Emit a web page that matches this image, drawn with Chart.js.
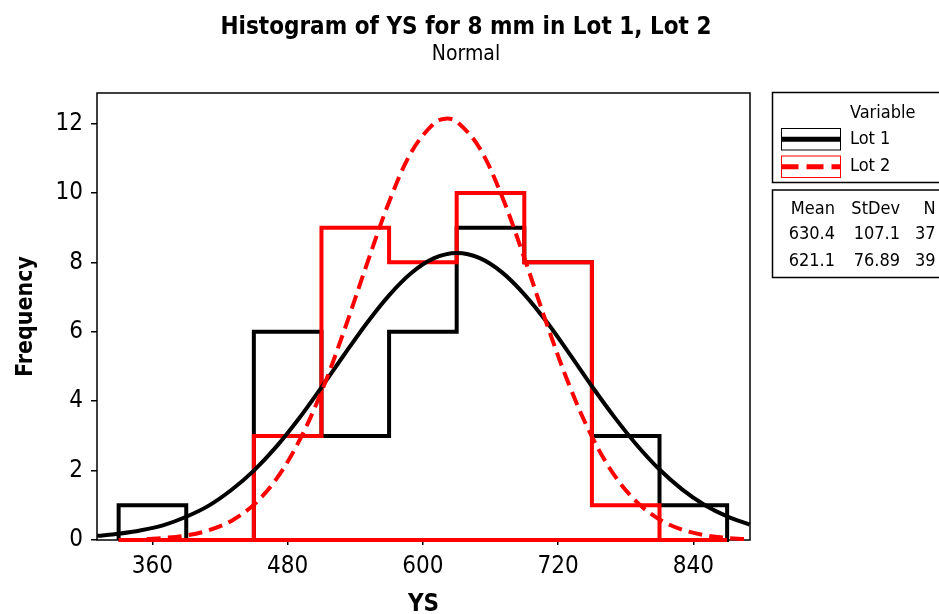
<!DOCTYPE html>
<html><head><meta charset="utf-8">
<script src="https://cdn.jsdelivr.net/npm/chart.js@4/dist/chart.umd.min.js"></script>
<style>html,body{margin:0;padding:0;background:#fff}#wrap{width:939px;height:614px;position:relative}</style>
</head><body><div id="wrap"><canvas id="c" width="939" height="614"></canvas></div>
<script>
const titleText = "Histogram of YS for 8 mm in Lot 1, Lot 2";
const subtitleText = "Normal";
const xAxisTitle = "YS";
const yAxisTitle = "Frequency";
const binEdges = [330, 390, 450, 510, 570, 630, 690, 750, 810, 870];
const lot1Counts = [1, 0, 6, 3, 6, 9, 8, 3, 1];
const lot2Counts = [0, 0, 3, 9, 8, 10, 8, 1, 0];
const xTicks = [360, 480, 600, 720, 840];
const yTicks = [0, 2, 4, 6, 8, 10, 12];
const lot1CurveX = [311, 330, 350, 370, 390, 410, 430, 450, 470, 490, 510, 530, 550, 570, 590, 610, 630, 650, 670, 690, 710, 730, 750, 770, 790, 810, 830, 850, 870, 890];
const lot1Fit = [0.12, 0.18, 0.28, 0.43, 0.67, 0.99, 1.44, 2.00, 2.69, 3.50, 4.40, 5.33, 6.24, 7.05, 7.70, 8.12, 8.27, 8.13, 7.72, 7.08, 6.28, 5.37, 4.43, 3.54, 2.73, 2.03, 1.46, 1.01, 0.68, 0.44];
const lot2CurveX = [355, 370, 390, 410, 430, 450, 470, 490, 510, 530, 550, 570, 590, 610, 620, 630, 650, 670, 690, 710, 730, 750, 770, 790, 810, 830, 850, 870, 885];
const lot2Fit = [0.03, 0.06, 0.13, 0.28, 0.55, 1.02, 1.76, 2.84, 4.27, 6.02, 7.92, 9.74, 11.19, 12.01, 12.14, 12.06, 11.31, 9.92, 8.13, 6.22, 4.45, 2.98, 1.86, 1.09, 0.59, 0.30, 0.14, 0.06, 0.03];
const seriesNames = ["Lot 1", "Lot 2"];
const legendTitle = "Variable";
const statsHeader = ["Mean", "StDev", "N"];
const statsRows = [["630.4", "107.1", "37"], ["621.1", "76.89", "39"]];

const FONT = "'DejaVu Sans Condensed', 'DejaVu Sans', sans-serif";

function outline(edges, counts) {
  const pts = [{x: edges[0], y: 0}];
  counts.forEach((c, i) => { pts.push({x: edges[i], y: c}, {x: edges[i + 1], y: c}); });
  pts.push({x: edges[edges.length - 1], y: 0});
  pts.push({x: edges[0], y: 0});
  return pts;
}
const curve = (xs, vals) => xs.map((x, i) => ({x: x, y: vals[i]}));

const framePlugin = {
  id: 'frame',
  beforeDatasetsDraw(chart) {
    const {ctx, chartArea: a} = chart;
    ctx.save();
    ctx.strokeStyle = '#000';
    ctx.lineWidth = 1.5;
    ctx.strokeRect(a.left, a.top, a.right - a.left, a.bottom - a.top);
    ctx.restore();
  }
};

const legendPlugin = {
  id: 'mtbLegend',
  afterDraw(chart) {
    const ctx = chart.ctx;
    ctx.save();
    ctx.strokeStyle = '#000';
    ctx.lineWidth = 1.5;
    ctx.strokeRect(772.5, 92.5, 200, 90);
    ctx.strokeRect(772.5, 190, 200, 87.5);
    ctx.fillStyle = '#000';
    ctx.font = '18px ' + FONT;
    ctx.textBaseline = 'middle';
    ctx.textAlign = 'left';
    ctx.fillText(legendTitle, 850, 113);
    ctx.fillText(seriesNames[0], 850, 139.5);
    ctx.fillText(seriesNames[1], 850, 166.5);
    ctx.lineWidth = 1;
    ctx.strokeStyle = '#000';
    ctx.strokeRect(781.5, 128.5, 59, 21.5);
    ctx.lineWidth = 5;
    ctx.beginPath(); ctx.moveTo(781.5, 139.3); ctx.lineTo(840.5, 139.3); ctx.stroke();
    ctx.lineWidth = 1;
    ctx.strokeStyle = '#ff0000';
    ctx.strokeRect(781.5, 156, 59, 21.5);
    ctx.lineWidth = 5;
    ctx.setLineDash([17, 8]);
    ctx.beginPath(); ctx.moveTo(781.5, 166.8); ctx.lineTo(840.5, 166.8); ctx.stroke();
    ctx.setLineDash([]);
    ctx.fillStyle = '#000';
    ctx.textAlign = 'right';
    const colR = [835, 900, 935.5];
    const rowY = [209, 234.5, 261];
    statsHeader.forEach((t, j) => ctx.fillText(t, colR[j], rowY[0]));
    statsRows.forEach((r, i) => r.forEach((t, j) => ctx.fillText(t, colR[j], rowY[i + 1])));
    ctx.restore();
  }
};

new Chart(document.getElementById('c'), {
  type: 'scatter',
  data: {
    datasets: [
      {label: seriesNames[1] + ' fit', data: curve(lot2CurveX, lot2Fit), showLine: true, borderColor: '#ff0000', borderWidth: 4, borderDash: [14, 7], pointRadius: 0, tension: 0.35, clip: false, order: 0},
      {label: seriesNames[0] + ' fit', data: curve(lot1CurveX, lot1Fit), showLine: true, borderColor: '#000000', borderWidth: 4, pointRadius: 0, tension: 0.35, clip: false, order: 1},
      {label: seriesNames[1], data: outline(binEdges, lot2Counts), showLine: true, borderColor: '#ff0000', borderWidth: 4, pointRadius: 0, tension: 0, borderJoinStyle: 'miter', clip: false, order: 2},
      {label: seriesNames[0], data: outline(binEdges, lot1Counts), showLine: true, borderColor: '#000000', borderWidth: 4, pointRadius: 0, tension: 0, borderJoinStyle: 'miter', clip: false, order: 3}
    ]
  },
  options: {
    responsive: false,
    animation: false,
    events: [],
    layout: {padding: {left: 0, right: 7, top: 0, bottom: 0}},
    plugins: {
      legend: {display: false},
      tooltip: {enabled: false},
      title: {display: true, text: titleText, color: '#000', font: {family: FONT, size: 24, weight: 'bold', lineHeight: 1.2}, padding: {top: 13.6, bottom: -0.5}},
      subtitle: {display: true, text: subtitleText, color: '#000', font: {family: FONT, size: 21, weight: 'normal', lineHeight: 1.2}, padding: {top: 0, bottom: 25.9}}
    },
    scales: {
      x: {
        type: 'linear', min: 310.8, max: 890.3,
        afterBuildTicks: (axis) => { axis.ticks = xTicks.map(v => ({value: v})); },
        afterFit: (axis) => { axis.height = 74; },
        grid: {display: true, drawOnChartArea: false, drawTicks: true, tickLength: 5, color: '#000', lineWidth: 1.5},
        border: {display: false},
        ticks: {color: '#000', font: {family: FONT, size: 24}, padding: 7, maxRotation: 0, autoSkip: false},
        title: {display: true, text: xAxisTitle, color: '#000', font: {family: FONT, size: 24, weight: 'bold', lineHeight: 1}, padding: {top: 0, bottom: -3}}
      },
      y: {
        type: 'linear', min: 0, max: 12.88,
        afterBuildTicks: (axis) => { axis.ticks = yTicks.map(v => ({value: v})); },
        afterFit: (axis) => { axis.width = 97; },
        grid: {display: true, drawOnChartArea: false, drawTicks: true, tickLength: 6, color: '#000', lineWidth: 1.5},
        border: {display: false},
        ticks: {color: '#000', font: {family: FONT, size: 24}, padding: 8},
        title: {display: true, text: yAxisTitle, color: '#000', font: {family: FONT, size: 23, weight: 'bold', lineHeight: 1}, padding: {top: 14.5, bottom: 0}}
      },
      yr: {
        type: 'linear', position: 'right', min: 0, max: 1, display: true,
        afterFit: (axis) => { axis.width = 182; },
        grid: {display: false}, border: {display: false}, ticks: {display: false}
      }
    }
  },
  plugins: [framePlugin, legendPlugin]
});
</script>
</body></html>
